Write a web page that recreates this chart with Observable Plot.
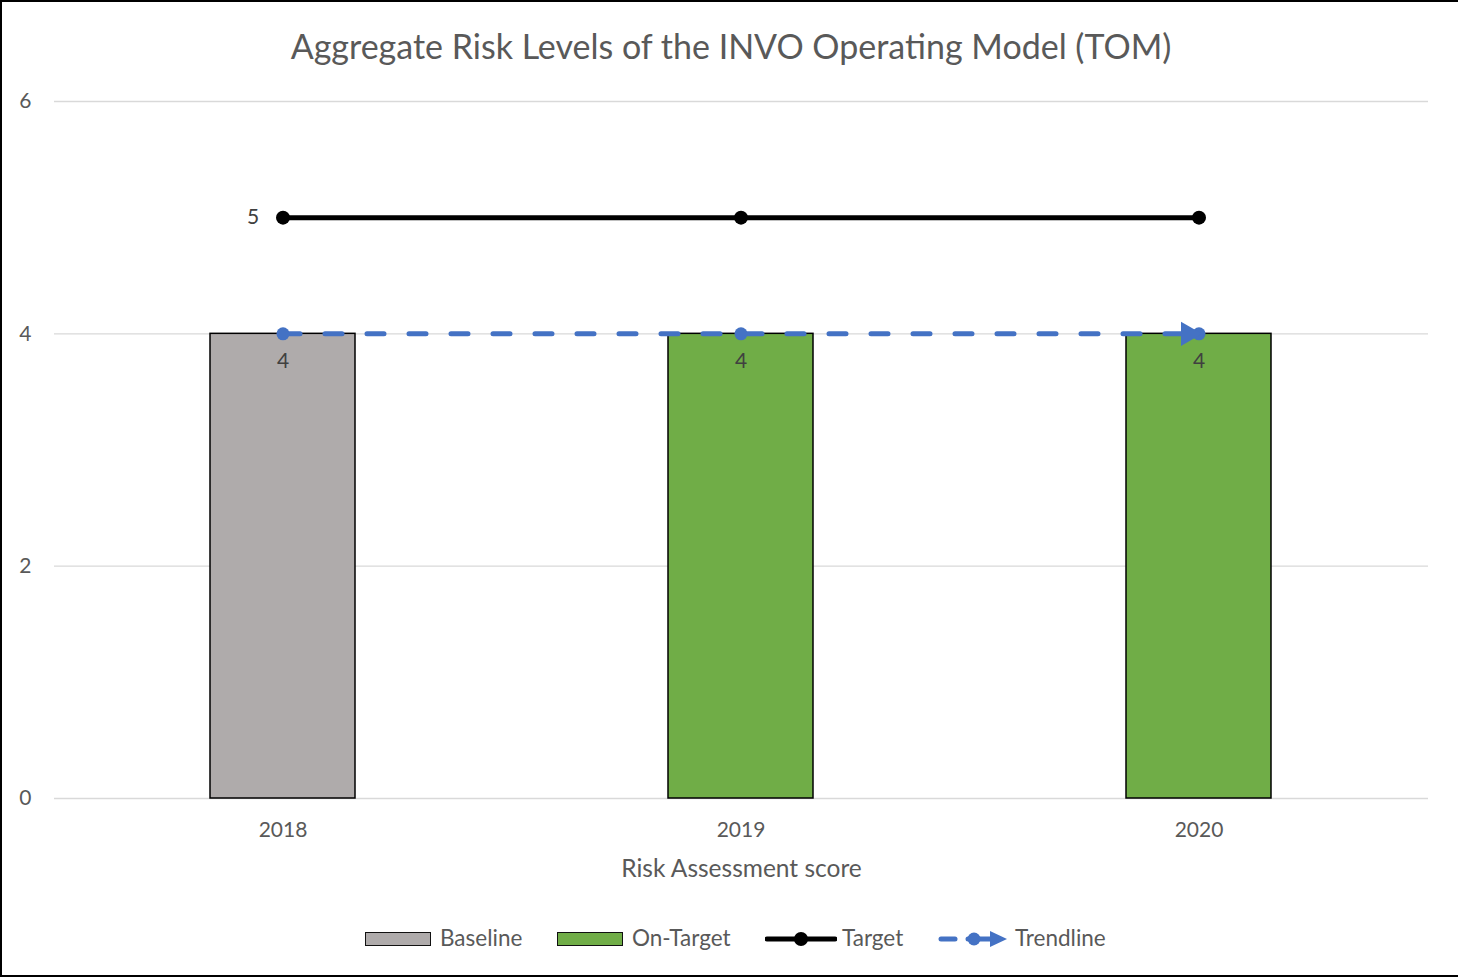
<!DOCTYPE html>
<html>
<head>
<meta charset="utf-8">
<script src="https://cdn.jsdelivr.net/npm/d3@7"></script>
<script src="https://cdn.jsdelivr.net/npm/@observablehq/plot@0.6"></script>
<style>
  html, body { margin: 0; padding: 0; background: #fff; }
  #frame { position: relative; width: 1458px; height: 977px; box-sizing: border-box;
    border-left: 2px solid #000; border-top: 2px solid #000; border-bottom: 2px solid #000;
    font-family: Lato, "Open Sans", sans-serif; color: #595959; overflow: hidden; }
  #title { position: absolute; left: 0; width: 1458px; top: 23px; text-align: center;
    font-size: 34px; color: #595959; white-space: nowrap; }
  #chart { position: absolute; left: -2px; top: -1px; }
  .leg { position: absolute; top: 925px; height: 24px; }
  .legtext { position: absolute; top: 922px; font-size: 22.5px; color: #595959; white-space: nowrap; }
  .sw { position: absolute; top: 930px; width: 64px; height: 12px; border: 1.5px solid #111; }
</style>
</head>
<body>
<div id="frame">
  <div id="title">Aggregate Risk Levels of the INVO Operating Model (TOM)</div>
  <div id="chart"></div>
  <div id="legend"></div>
</div>
<script>
// ---- data ----
const years = ["2018", "2019", "2020"];
const barSeries = ["Baseline", "On-Target", "On-Target"];
const barValues = [4, 4, 4];
const targetValues = [5, 5, 5];
const trendValues = [4, 4, 4];
const yTicks = [0, 2, 4, 6];
const seriesNames = ["Baseline", "On-Target", "Target", "Trendline"];
const seriesColors = ["#AFABAB", "#70AD47", "#000000", "#4472C4"];
const xTitle = "Risk Assessment score";

const bars = years.map((y, i) => ({year: y, value: barValues[i], series: barSeries[i]}));
const target = years.map((y, i) => ({year: y, value: targetValues[i]}));
const trend = years.map((y, i) => ({year: y, value: trendValues[i]}));

const plot = Plot.plot({
  width: 1458,
  height: 900,
  marginLeft: 54,
  marginRight: 30,
  marginTop: 100,
  marginBottom: 103,
  style: {fontFamily: "Lato, 'Open Sans', sans-serif", color: "#595959", background: "transparent"},
  x: {domain: years, paddingInner: 0.683, paddingOuter: 0.3415, label: null},
  y: {domain: [0, 6], label: null},
  color: {domain: seriesNames.slice(0, 2), range: seriesColors.slice(0, 2)},
  marks: [
    Plot.ruleY(yTicks, {stroke: "#d9d9d9", strokeWidth: 1.3}),
    Plot.axisY({ticks: yTicks, tickFormat: "d", tickSize: 0, tickPadding: 23, fontSize: 21, label: null}),
    Plot.axisX({tickSize: 0, tickPadding: 24, fontSize: 21, label: null}),
    Plot.barY(bars, {x: "year", y: "value", fill: "series", stroke: "#000", strokeWidth: 1.5}),
    Plot.text(bars, {x: "year", y: "value", text: d => String(d.value), dy: 27, fill: "#404040", fontSize: 21}),
    Plot.line(target, {x: "year", y: "value", stroke: seriesColors[2], strokeWidth: 5}),
    Plot.dot(target, {x: "year", y: "value", r: 7, fill: seriesColors[2]}),
    Plot.text(target.slice(0, 1), {x: "year", y: "value", text: d => String(d.value), dx: -30, fill: "#404040", fontSize: 21}),
    Plot.line(trend, {x: "year", y: "value", stroke: seriesColors[3], strokeWidth: 5, strokeDasharray: "17,25", strokeLinecap: "round"}),
    Plot.dot(trend, {x: "year", y: "value", r: 6.5, fill: seriesColors[3]}),
    Plot.dot(trend.slice(-1), {x: "year", y: "value", symbol: "triangle", r: 9, rotate: 90, dx: -11, fill: seriesColors[3]}),
    Plot.text([xTitle], {frameAnchor: "bottom", text: d => d, dy: 78, fontSize: 24.5, fill: "#595959"})
  ]
});
document.getElementById("chart").appendChild(plot);

// ---- legend ----
const legend = document.getElementById("legend");
const swLeft = [365, 557, 765, 938];
const txLeft = [440, 632, 842, 1015];
seriesNames.forEach((name, i) => {
  if (i < 2) {
    const s = document.createElement("div");
    s.className = "sw";
    s.style.left = (swLeft[i] - 2) + "px";
    s.style.background = seriesColors[i];
    legend.appendChild(s);
  } else {
    const ns = "http://www.w3.org/2000/svg";
    const svg = document.createElementNS(ns, "svg");
    svg.setAttribute("class", "leg");
    svg.setAttribute("width", 72);
    svg.setAttribute("height", 24);
    svg.style.left = (swLeft[i] - 2) + "px";
    if (i === 2) {
      svg.innerHTML = `<line x1="2" x2="70" y1="12" y2="12" stroke="#000" stroke-width="5" stroke-linecap="round"/>
        <circle cx="36" cy="12" r="7" fill="#000"/>`;
    } else {
      svg.innerHTML = `<line x1="3" x2="17" y1="12" y2="12" stroke="${seriesColors[3]}" stroke-width="5" stroke-linecap="round"/>
        <line x1="30" x2="52" y1="12" y2="12" stroke="${seriesColors[3]}" stroke-width="5" stroke-linecap="round"/>
        <circle cx="36" cy="12" r="6.5" fill="${seriesColors[3]}"/>
        <path d="M52,4 L69,12 L52,20 Z" fill="${seriesColors[3]}"/>`;
    }
    legend.appendChild(svg);
  }
  const t = document.createElement("div");
  t.className = "legtext";
  t.style.left = (txLeft[i] - 2) + "px";
  t.textContent = name;
  legend.appendChild(t);
});
</script>
</body>
</html>
